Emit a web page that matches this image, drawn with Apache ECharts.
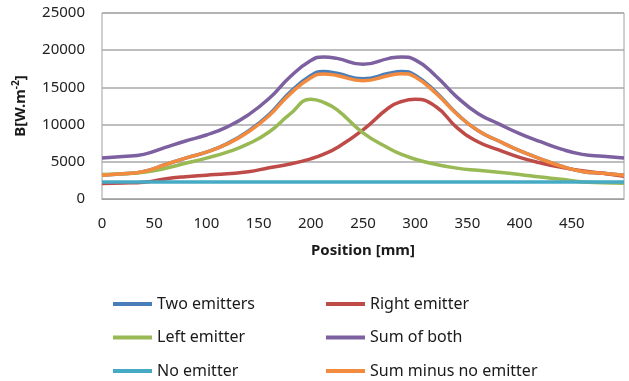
<!DOCTYPE html>
<html>
<head>
<meta charset="utf-8">
<script src="https://cdn.jsdelivr.net/npm/echarts@6/dist/echarts.min.js"></script>
<style>
  html, body { margin: 0; padding: 0; background: #fff; }
</style>
</head>
<body>
<div id="LineChart" style="width: 629px; height: 381px;"></div>
<script>
// positions along the sensor, mm
const positions = [0, 20, 40, 60, 80, 100, 120, 140, 160, 180, 200, 212, 225, 250,
  275, 287, 300, 320, 340, 360, 380, 400, 420, 440, 460, 480, 500];

const twoEmitters = [3200, 3400, 3700, 4600, 5500, 6300, 7450, 9100, 11350, 14350, 16600, 17150, 16900, 16150,
  16900, 17150, 16650, 14350, 11450, 9200, 7800, 6500, 5400, 4400, 3700, 3450, 3200];
const rightEmitter = [2100, 2150, 2250, 2700, 3000, 3200, 3400, 3650, 4200, 4700, 5400, 6000, 6900, 9300,
  12300, 13100, 13400, 12400, 9600, 7700, 6600, 5600, 4850, 4250, 3800, 3450, 3050];
const leftEmitter = [3300, 3400, 3600, 4100, 4800, 5500, 6300, 7400, 9000, 11400, 13400, 13000, 12000, 8900,
  6800, 6000, 5350, 4650, 4150, 3850, 3600, 3300, 2950, 2650, 2300, 2200, 2100];
const sumOfBoth = [5500, 5700, 6000, 6900, 7800, 8600, 9700, 11300, 13500, 16400, 18600, 19100, 18900, 18100,
  18900, 19100, 18700, 16500, 13700, 11500, 10100, 8800, 7700, 6700, 6000, 5750, 5500];
const noEmitter = [2300, 2300, 2300, 2300, 2300, 2300, 2300, 2300, 2300, 2300, 2300, 2300, 2300, 2300,
  2300, 2300, 2300, 2300, 2300, 2300, 2300, 2300, 2300, 2300, 2300, 2300, 2300];
const sumMinusNo = [3200, 3400, 3700, 4600, 5500, 6300, 7400, 9000, 11200, 14100, 16300, 16800, 16600, 15900,
  16600, 16850, 16400, 14200, 11400, 9200, 7800, 6500, 5400, 4400, 3700, 3450, 3200];

const seriesNames = ['Two emitters', 'Right emitter', 'Left emitter', 'Sum of both', 'No emitter', 'Sum minus no emitter'];
const seriesData = [twoEmitters, rightEmitter, leftEmitter, sumOfBoth, noEmitter, sumMinusNo];
const colors = ['#4A7EBB', '#BE4B48', '#98B954', '#7D60A0', '#46AAC5', '#F38B3F'];

const font = 'Noto Sans';
const chart = echarts.init(document.getElementById('LineChart'));

const legendCommon = {
  orient: 'vertical',
  icon: 'rect',
  padding: 0,
  height: 100,
  itemWidth: 39,
  itemHeight: 4,
  itemGap: 15.5,
  textStyle: { fontFamily: font, fontSize: 16, color: '#1a1a1a', lineHeight: 18 }
};

const option = {
  animation: false,
  color: colors,
  grid: {
    left: 102,
    right: 5,
    top: 13,
    bottom: 182,
    show: true,
    borderColor: '#a0a0a0',
    borderWidth: 1
  },
  legend: [
    Object.assign({ left: 113, top: 295, data: ['Two emitters', 'Left emitter', 'No emitter'] }, legendCommon),
    Object.assign({ left: 326, top: 295, data: ['Right emitter', 'Sum of both', 'Sum minus no emitter'] }, legendCommon)
  ],
  xAxis: {
    type: 'value',
    min: 0,
    max: 500,
    interval: 50,
    name: 'Position [mm]',
    nameLocation: 'middle',
    nameGap: 44,
    nameTextStyle: { fontFamily: font, fontSize: 15, fontWeight: 'bold', color: '#1a1a1a' },
    axisLine: { show: true, lineStyle: { color: '#a0a0a0' } },
    axisTick: { show: false },
    splitLine: { show: false },
    axisLabel: { showMaxLabel: false, margin: 17, fontFamily: font, fontSize: 15, color: '#222' }
  },
  yAxis: {
    type: 'value',
    min: 0,
    max: 25000,
    interval: 5000,
    name: '{a|B[W.m}{s|-2}{a|]}',
    nameLocation: 'middle',
    nameGap: 72,
    nameTextStyle: {
      rich: {
        a: { fontFamily: font, fontSize: 15, fontWeight: 'bold', color: '#1a1a1a' },
        s: { fontFamily: font, fontSize: 10, fontWeight: 'bold', color: '#1a1a1a', padding: [0, 0, 9, 0] }
      }
    },
    axisLine: { show: false },
    axisTick: { show: false },
    splitLine: { lineStyle: { color: '#a8a8a8', width: 1.5 } },
    axisLabel: {
      margin: 17, fontFamily: font, fontSize: 15, color: '#222',
      formatter: v => String(v)
    }
  },
  series: seriesNames.map((name, i) => ({
    name: name,
    type: 'line',
    smooth: true,
    symbol: 'none',
    lineStyle: { width: 3.5, color: colors[i] },
    itemStyle: { color: colors[i] },
    data: positions.map((x, j) => [x, seriesData[i][j]])
  }))
};

chart.setOption(option);
</script>
</body>
</html>
